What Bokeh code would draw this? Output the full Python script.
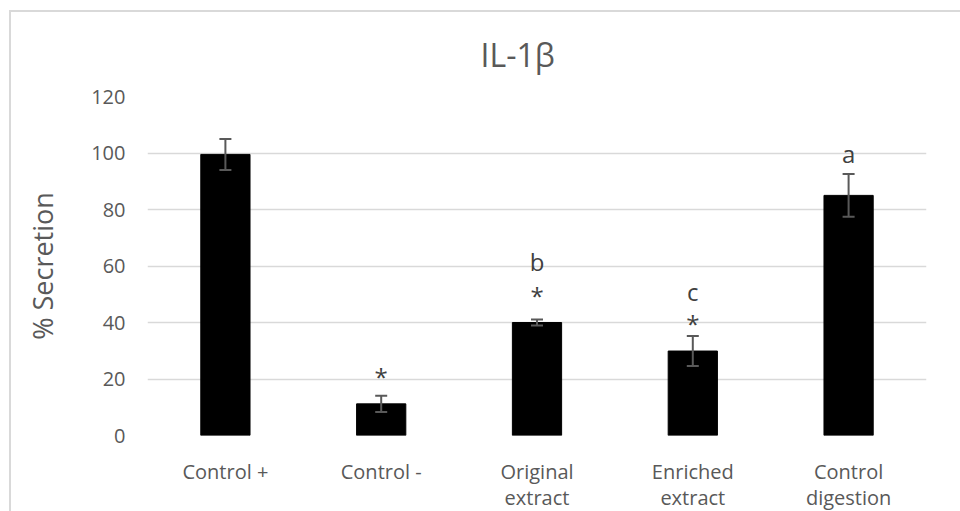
from bokeh.plotting import figure
from bokeh.models import ColumnDataSource, Whisker, TeeHead, FixedTicker, Range1d, FactorRange
from bokeh.core.properties import value
from bokeh.embed import file_html
from bokeh.resources import INLINE

categories = ["Control +", "Control -", "Original\nextract", "Enriched\nextract", "Control\ndigestion"]
secretion = [99.5, 11.2, 40.0, 29.9, 85.0]
error = [5.5, 2.9, 1.1, 5.3, 7.6]
star_labels = ["", "*", "*", "*", ""]
star_y = [0, 21.0, 49.5, 39.5, 0]
letter_labels = ["", "", "b", "c", "a"]
letter_y = [0, 0, 61.6, 51.0, 99.8]
y_ticks = [0, 20, 40, 60, 80, 100, 120]

FONT = "Open Sans"
GRAY = "#595959"

src = ColumnDataSource(dict(
    cat=categories, val=secretion,
    upper=[v + e for v, e in zip(secretion, error)],
    lower=[v - e for v, e in zip(secretion, error)],
    star=star_labels, star_y=star_y,
    letter=letter_labels, letter_y=letter_y,
))

p = figure(width=951, height=501, x_range=FactorRange(*categories), y_range=Range1d(0, 120),
           output_backend="svg", toolbar_location=None,
           min_border_left=136, min_border_right=36, min_border_top=84, min_border_bottom=74)
p.margin = (10, 0, 0, 9)
p.styles = {"border-left": "2px solid #d9d9d9", "border-top": "2px solid #d9d9d9"}

p.title.text = "IL-1β"
p.title.align = "left"
p.title.offset = 333
p.title.vertical_align = "top"
p.title.text_font = FONT
p.title.text_font_size = "32px"
p.title.text_font_style = "normal"
p.title.text_color = GRAY
p.title.standoff = 38

p.vbar(x="cat", top="val", width=0.316, source=src, fill_color="black", line_color="black")

w = Whisker(base="cat", upper="upper", lower="lower", source=src, level="overlay",
            line_color=GRAY, line_width=2,
            upper_head=TeeHead(size=12, line_color=GRAY, line_width=2),
            lower_head=TeeHead(size=12, line_color=GRAY, line_width=2))
p.add_layout(w)

p.text(x="cat", y="star_y", text="star", source=src, text_align="center", text_baseline="middle",
       text_font=value(FONT), text_font_size="24px", text_color="#404040")
p.text(x="cat", y="letter_y", text="letter", source=src, text_align="center", text_baseline="middle",
       text_font=value(FONT), text_font_size="24px", text_color="#404040")

p.outline_line_color = None
p.xgrid.grid_line_color = None
p.ygrid.grid_line_color = "#d9d9d9"
p.ygrid.grid_line_width = 1.5
p.yaxis.ticker = FixedTicker(ticks=y_ticks)

for ax in (p.xaxis[0], p.yaxis[0]):
    ax.axis_line_color = None
    ax.major_tick_line_color = None
    ax.minor_tick_line_color = None
    ax.major_label_text_font = FONT
    ax.major_label_text_color = GRAY
    ax.major_label_text_font_size = "20px"

p.yaxis.major_label_standoff = 16
p.yaxis.axis_label = "% Secretion"
p.yaxis.axis_label_text_font = FONT
p.yaxis.axis_label_text_font_style = "normal"
p.yaxis.axis_label_text_font_size = "27px"
p.yaxis.axis_label_text_color = GRAY
p.yaxis.axis_label_standoff = 27
p.xaxis.major_label_standoff = 16
p.xaxis.major_label_text_line_height = 0.98

open("out.html", "w").write(file_html(p, INLINE))
